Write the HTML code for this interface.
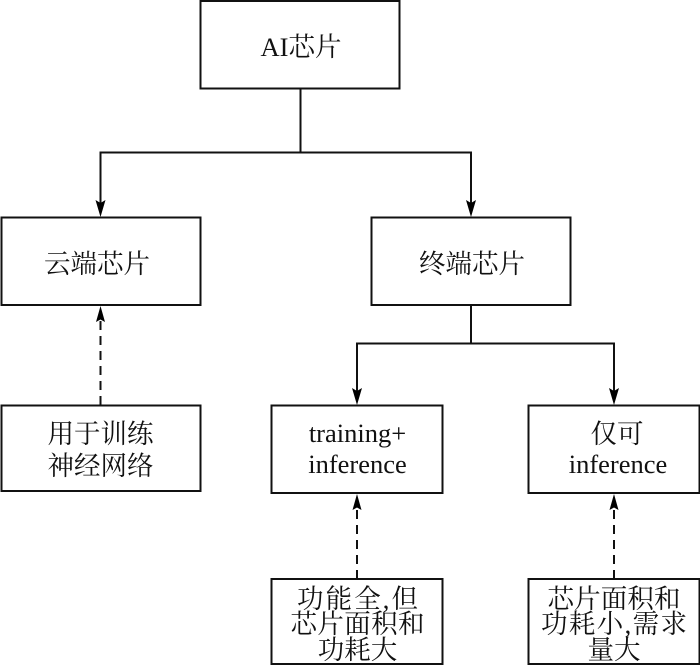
<!DOCTYPE html>
<html>
<head>
<meta charset="utf-8">
<style>
html,body{margin:0;padding:0;background:#fff;width:700px;height:665px;overflow:hidden}
svg{display:block}
text{font-family:"Liberation Serif","Noto Serif CJK SC",serif;font-size:26.5px;fill:#111;text-anchor:middle}
rect{fill:#fff;stroke:#111;stroke-width:2}
.l{fill:none;stroke:#111;stroke-width:2}
.d{fill:none;stroke:#111;stroke-width:2;stroke-dasharray:9 6}
.a{fill:#000;stroke:none}
</style>
</head>
<body>
<svg width="700" height="665" viewBox="0 0 700 665" xmlns="http://www.w3.org/2000/svg">
<polyline class="l" points="300.5,88 300.5,152.5"/>
<polyline class="l" points="100.5,207 100.5,152.5 471,152.5 471,207"/>
<polyline class="l" points="471,305 471,343.5"/>
<polyline class="l" points="357,395 357,343.5 614,343.5 614,395"/>
<line class="d" x1="100.5" y1="405" x2="100.5" y2="316"/>
<line class="d" x1="357" y1="579" x2="357" y2="505"/>
<line class="d" x1="614" y1="579" x2="614" y2="505"/>
<polygon class="a" points="100.5,217 95.5,200 100.5,203 105.5,200"/>
<polygon class="a" points="471,217 466,200 471,203 476,200"/>
<polygon class="a" points="357,405 352,388 357,391 362,388"/>
<polygon class="a" points="614,405 609,388 614,391 619,388"/>
<polygon class="a" points="100.5,306 96,322 100.5,319.5 105,322"/>
<polygon class="a" points="357,494 352.5,510 357,507.5 361.5,510"/>
<polygon class="a" points="614,494 609.5,510 614,507.5 618.5,510"/>
<rect x="200.5" y="1" width="199" height="87.5"/>
<rect x="1.5" y="217.5" width="199" height="87.5"/>
<rect x="371.5" y="217.5" width="199" height="87.5"/>
<rect x="1.5" y="405.5" width="199" height="85.5"/>
<rect x="271.5" y="405.5" width="171" height="87.5"/>
<rect x="528.5" y="405.5" width="171" height="87.5"/>
<rect x="271.5" y="579" width="171" height="85"/>
<rect x="528.5" y="579" width="171" height="85"/>
<text x="301" y="56">AI芯片</text>
<text x="97" y="273">云端芯片</text>
<text x="472" y="273">终端芯片</text>
<text x="100.5" y="443">用于训练</text>
<text x="100.5" y="475">神经网络</text>
<text x="357.5" y="442">training+</text>
<text x="357.5" y="473">inference</text>
<text x="617" y="443">仅可</text>
<text x="618" y="473">inference</text>
<text x="357.5" y="608" textLength="121" lengthAdjust="spacing">功能全,但</text>
<text x="357.5" y="633" textLength="134" lengthAdjust="spacing">芯片面积和</text>
<text x="357.5" y="659">功耗大</text>
<text x="614" y="608" textLength="133" lengthAdjust="spacing">芯片面积和</text>
<text x="614" y="633" textLength="146" lengthAdjust="spacing">功耗小,需求</text>
<text x="614" y="659">量大</text>
</svg>
</body>
</html>
